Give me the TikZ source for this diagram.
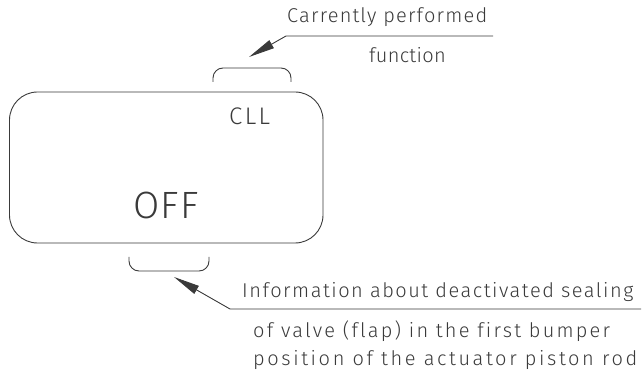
\documentclass[tikz,border=0pt]{standalone}
\usepackage{fontspec}
\setmainfont{Fira Sans Light}[Ligatures=NoCommon]
\usetikzlibrary{arrows.meta}
\definecolor{ink}{HTML}{3A3A3A}
\newcommand{\lsp}[1]{\fontsize{20}{24}\selectfont\addfontfeatures{LetterSpace=#1}}
\tikzset{
  frame/.style={draw=ink, line width=0.9pt},
  leader/.style={draw=ink, line width=0.9pt, -{Triangle[length=26pt,width=9pt]}},
  lbl/.style={anchor=base west, inner sep=0pt, text=ink},
  disp/.style={anchor=base west, inner sep=0pt, text=ink},
}
\begin{document}
\begin{tikzpicture}[x=1pt,y=-1pt]
\useasboundingbox (0,0) rectangle (642,371);
% display frame
\draw[frame, rounded corners=28pt] (9.5,92) rectangle (323,243);
% brackets
\draw[frame, rounded corners=10pt] (213,82) -- (213,68) -- (291,68) -- (291,82);
\draw[frame, rounded corners=10pt] (129,257) -- (129,271) -- (209,271) -- (209,257);
% display texts
\node[disp, font={\fontsize{24}{26}\selectfont\addfontfeatures{LetterSpace=10}}] (cll) at (229,125) {CLL};
\node[disp, font={\fontsize{38}{40}\selectfont\addfontfeatures{LetterSpace=3}}] (off) at (133,219) {OFF};
% top callout
\coordinate (t1) at (493,36);
\coordinate (t2) at (286,36);
\coordinate (ttip) at (249,57);
\draw[leader] (t1) -- (t2) -- (ttip);
\node[lbl, font={\lsp{6}}] (ta) at (287,23) {Carrently performed};
\node[lbl, font={\lsp{1.5}}] (tb) at (369,63) {function};
% bottom callout
\coordinate (b1) at (641,309);
\coordinate (b2) at (230,309);
\coordinate (btip) at (174,277);
\draw[leader] (b1) -- (b2) -- (btip);
\node[lbl, font={\lsp{7.6}}] (ba) at (242,297) {Information about deactivated sealing};
\node[lbl, font={\lsp{11}}] (bb) at (253,337) {of valve (flap) in the first bumper};
\node[lbl, font={\lsp{13}}] (bc) at (253,365) {position of the actuator piston rod};
\end{tikzpicture}
\end{document}
